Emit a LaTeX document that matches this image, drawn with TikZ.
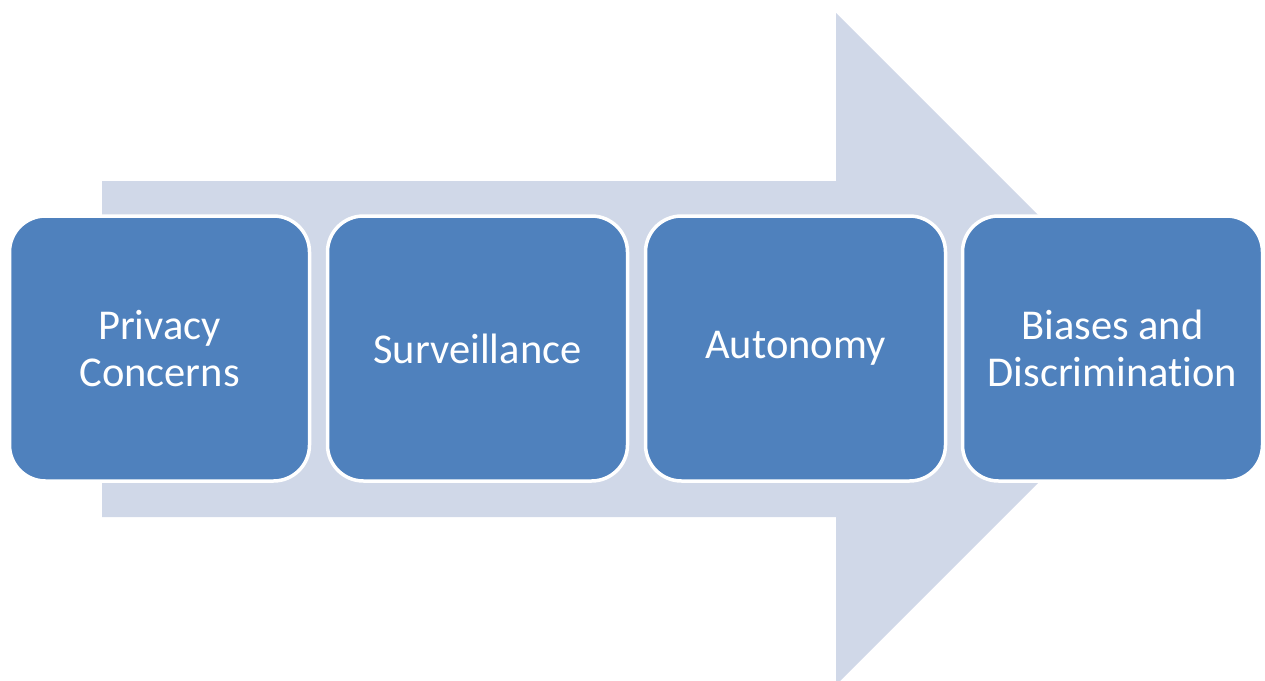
\documentclass[tikz,border=0pt]{standalone}
\usepackage{fontspec}
\setmainfont{Carlito}[Ligatures=CommonOff]
\definecolor{arrowfill}{HTML}{D0D8E8}
\definecolor{boxfill}{HTML}{4F81BD}
\begin{document}
\begin{tikzpicture}[x=1pt,y=-1pt,
  stagebox/.style={draw=white, line width=3.5pt, fill=boxfill, rounded corners=36pt,
    minimum width=300pt, minimum height=265pt, text=white, align=center,
    font=\fontsize{42.5}{47}\selectfont, inner sep=0pt}]
\useasboundingbox (0,0) rectangle (1265,680);
\fill[arrowfill] (102,181) -- (836,181) -- (836,13) -- (1172,349) -- (836,685) -- (836,517) -- (102,517) -- cycle;
\node[stagebox] (b1) at (159.5,348.5) {Privacy\\Concerns};
\node[stagebox] (b2) at (477.5,348.5) {Surveillance};
\node[stagebox] (b3) at (795.5,348.5) {Autonomy};
\node[stagebox] (b4) at (1112.5,348.5) {Biases and\\Discrimination};
\end{tikzpicture}
\end{document}
